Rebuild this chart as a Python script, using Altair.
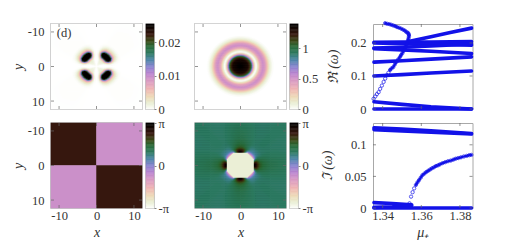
import numpy as np
import pandas as pd
import altair as alt

alt.data_transformers.disable_max_rows()

# colour map stops (fraction, colour)
cm_pos = [0, .03, .08, .15, .24, .34, .42, .5, .58, .66, .74, .8, .88, 1]
cm_col = ["#ffffff", "#f4f7ea", "#e8ecd0", "#efd9b8", "#eeb4b4", "#d89ac4", "#ba84cf", "#8a84d0", "#4c86a8",
          "#2e7a60", "#2a6a38", "#3a4a18", "#38180f", "#000000"]

# intensity panels: radial profiles
r1 = [0, 2, 2.5, 3, 3.5, 4, 4.5, 5, 5.5, 6, 6.5, 7, 20]
v1 = [0, .002, .008, .025, .045, .045, .022, .009, .004, .0015, .0005, .0001, 0]
ang_deg = [0, 8, 14, 20, 30, 45]
ang_val = [0, .01, .1, .35, .85, 1]
r2 = [0, 2, 2.8, 3.2, 3.6, 4.0, 4.3, 4.7, 5.3, 6, 6.6, 7.2, 7.8, 8.5, 9, 20]
v2 = [1.4, 1.32, 1.1, .7, .3, .04, .01, .16, .4, .52, .46, .28, .1, .02, 0, 0]

# phase panels
quad_x = [-12.15, 0, -12.15, 0]
quad_x2 = [0, 12.15, 0, 12.15]
quad_y = [-12.3, -12.3, 0, 0]
quad_y2 = [0, 0, 12.3, 12.3]
quad_v = [2.42, -0.78, -0.78, 2.42]
e_pos = [0, .4, .9, 1.5, 2.5, 4, 8, 20]
ph_axis = [3.1, 2.9, 2.2, 1.7, 1.4, 1.2, 1.05, .95]
ph_diag = [-1.7, -.2, .5, .7, .9, .95, .95, .95]

# stability panels
mu_ticks = [1.34, 1.36, 1.38]
re_ticks = [0, .1, .2]
im_ticks = [0, .05, .1]
re_bands = {
    "a": ([1.3355, 1.35, 1.365, 1.386], [.202, .2025, .203, .204]),
    "b": ([1.3355, 1.35, 1.365, 1.386], [.2, .198, .196, .193]),
    "c": ([1.3355, 1.35, 1.365, 1.386], [.185, .187, .191, .197]),
    "d": ([1.3355, 1.35, 1.365, 1.386], [.183, .179, .175, .168]),
    "e": ([1.3355, 1.35, 1.365, 1.386], [.142, .146, .151, .158]),
    "f": ([1.3355, 1.35, 1.365, 1.386], [.1, .104, .109, .115]),
    "g": ([1.3355, 1.35, 1.365, 1.386], [.022, .014, .007, 0]),
    "h": ([1.3355, 1.35, 1.365, 1.386], [0, 0, 0, 0]),
    "i": ([1.354, 1.365, 1.375, 1.386], [.205, .219, .232, .245]),
}
re_curve_mu = [1.3353, 1.3362, 1.337, 1.3379, 1.3387, 1.3396, 1.3405, 1.3413, 1.3421, 1.3430, 1.3438, 1.3446,
               1.3455, 1.3463, 1.3472, 1.348, 1.3489, 1.3495, 1.3502, 1.3508, 1.3514, 1.3519, 1.3524, 1.3528,
               1.3531, 1.3534, 1.3536, 1.3536, 1.3534, 1.3530, 1.3523, 1.3516, 1.3507, 1.3497, 1.3486, 1.3475,
               1.3465, 1.3455, 1.3445, 1.3435, 1.3424, 1.3413]
re_curve_v = [.031, .038, .045, .051, .061, .071, .082, .092, .102, .11, .118, .123,
              .127, .135, .143, .15, .157, .163, .169, .176, .182, .189, .195, .202,
              .208, .214, .22, .224, .228, .231, .233, .237, .24, .243, .246, .248,
              .251, .253, .255, .257, .258, .26]
im_bands = {
    "a": ([1.3355, 1.35, 1.365, 1.386], [.127, .125, .122, .118]),
    "b": ([1.3355, 1.35, 1.365, 1.386], [.124, .122, .12, .117]),
    "c": ([1.3355, 1.345, 1.355], [.0085, .007, .005]),
    "d": ([1.3355, 1.345, 1.355], [.001, .002, .004]),
    "e": ([1.3355, 1.35, 1.365, 1.386], [0, 0, 0, 0]),
}
im_curve_mu = [1.3539, 1.3547, 1.3555, 1.3563, 1.3572, 1.358, 1.3588, 1.3597, 1.3606, 1.3616, 1.3626, 1.3636,
               1.3646, 1.3656, 1.3666, 1.3676, 1.3686, 1.3696, 1.3710, 1.3724, 1.3738, 1.3752, 1.3766, 1.3778,
               1.3791, 1.3805, 1.382, 1.3835, 1.3848, 1.3859]
im_curve_v = [.0074, .018, .025, .031, .0365, .0405, .044, .048, .052, .0545, .057, .059,
              .061, .063, .0645, .0665, .0675, .069, .071, .0725, .074, .075, .0765, .078,
              .079, .0802, .0815, .0825, .0835, .084]

W, H = 91, 85
BW = 8
XM, YM = 12.15, 12.3
FONT = "Liberation Serif"
TXT = "#333333"
BLUE = "#1212e8"
FRAME = alt.ViewConfig(stroke="#b4b4b4", strokeWidth=1.6)
FRAME2 = alt.ViewConfig(stroke="#a8a8a8", strokeWidth=1)


def cscale(vmin, vmax):
    return alt.Scale(domain=[vmin + p * (vmax - vmin) for p in cm_pos], range=cm_col, interpolate="rgb", clamp=True)


def grid_table(fn):
    ex = np.linspace(-XM, XM, W + 1)
    ey = np.linspace(-YM, YM, H + 1)
    xs, ys = np.meshgrid((ex[:-1] + ex[1:]) / 2, (ey[:-1] + ey[1:]) / 2)
    xe, ye = np.meshgrid(ex[:-1], ey[:-1])
    xf, yf = np.meshgrid(ex[1:], ey[1:])
    return pd.DataFrame({
        "x": xe.ravel().round(3), "x2": xf.ravel().round(3),
        "y": ye.ravel().round(3), "y2": yf.ravel().round(3),
        "v": np.round(fn(xs, ys), 5).ravel(),
    })


def f1(x, y):
    r = np.hypot(x, y)
    th = np.degrees(np.arctan2(np.abs(y), np.abs(x)))
    a = np.minimum(th, 90 - th)
    return np.interp(r, r1, v1) * np.interp(a, ang_deg, ang_val)


def f2(x, y):
    return np.interp(np.hypot(x, y), r2, v2)


def f4(x, y):
    ax, ay = np.abs(x), np.abs(y)
    d = np.maximum(np.maximum(ax, ay), (ax + ay) * .68)
    e = d - 3.7
    th = np.degrees(np.arctan2(ay, ax))
    a = np.minimum(th, 90 - th)
    w = np.cos(np.radians(2 * a)) ** 2.5
    out = w * np.interp(e, e_pos, ph_axis) + (1 - w) * np.interp(e, e_pos, ph_diag)
    out = out + .04 * np.cos(np.radians(8 * a)) * np.clip(e / 4, 0, 1)
    return np.where(e < 0, -2.72, out)


def pos(field, scale, ax):
    ch = alt.X if field == "x" else alt.Y
    return ch("t:Q", scale=scale, axis=ax)


def ticks(xvals, yvals, xs, ys, w, h, ax_x, ax_y, color="#666666"):
    dx = pd.DataFrame({"t": xvals})
    dy = pd.DataFrame({"t": yvals})
    ch = []
    for a, b in ((h, h - 3), (0, 3)):
        ch.append(alt.Chart(dx).mark_rule(color=color, strokeWidth=.7).encode(
            x=pos("x", xs, ax_x), y=alt.value(a), y2=alt.value(b)))
    for a, b in ((0, 3), (w, w - 3)):
        ch.append(alt.Chart(dy).mark_rule(color=color, strokeWidth=.7).encode(
            y=pos("y", ys, ax_y), x=alt.value(a), x2=alt.value(b)))
    return ch


def axis(title, values, show, pad=2, tpad=4):
    if not show:
        return None
    return alt.Axis(title=title, values=values, domain=False, ticks=False, grid=False, labelFont=FONT,
                    labelFontSize=12.5, labelColor=TXT, titleFont=FONT, titleFontSize=14, titleFontStyle="italic",
                    titleFontWeight="normal", titleColor=TXT, labelPadding=pad, titlePadding=tpad, labelFlush=False,
                    labelOverlap=False, labelExpr="'' + datum.value")


sx = alt.Scale(domain=[-XM, XM], nice=False, zero=False)
sy = alt.Scale(domain=[YM, -YM], nice=False, zero=False)
tk = [-10, 0, 10]


def heat(df, vmin, vmax, show_x, show_y=True, extra=None):
    ax_x = axis("x", tk, show_x, pad=1)
    ax_y = axis("y", tk, show_y, pad=7, tpad=2)
    enc = dict(
        x=alt.X("x:Q", scale=sx, axis=ax_x),
        x2="x2:Q",
        y=alt.Y("y:Q", scale=sy, axis=ax_y),
        y2="y2:Q",
        color=alt.Color("v:Q", scale=cscale(vmin, vmax), legend=None),
        stroke=alt.Color("v:Q", scale=cscale(vmin, vmax), legend=None),
    )
    base = alt.Chart(df).mark_rect(strokeWidth=.5).encode(**enc)
    layers = [base] + ticks(tk, tk, sx, sy, W, H, ax_x, ax_y)
    if extra is not None:
        layers.append(extra.encode(x=alt.X("x:Q", scale=sx, axis=ax_x), y=alt.Y("y:Q", scale=sy, axis=ax_y)))
    return alt.layer(*layers).properties(width=W, height=H, view=FRAME)


def bar(vmin, vmax, vals, labexpr=None):
    lev = np.linspace(0, 1, 65)
    df = pd.DataFrame({"y": vmin + lev[:-1] * (vmax - vmin), "y2": vmin + lev[1:] * (vmax - vmin),
                       "v": vmin + (lev[:-1] + lev[1:]) / 2 * (vmax - vmin)})
    ys = alt.Scale(domain=[vmin, vmax], nice=False, zero=False)
    return alt.Chart(df).mark_rect(strokeWidth=.5).encode(
        y=alt.Y("y:Q", scale=ys, axis=alt.Axis(orient="right", title=None, values=vals, domain=False, tickSize=2,
                                               tickColor="#888888", grid=False, labelFont=FONT, labelFontSize=12.5,
                                               labelColor=TXT, labelPadding=2, labelFlush=False, labelOverlap=False,
                                               labelExpr=labexpr or "'' + datum.value")),
        y2="y2:Q",
        color=alt.Color("v:Q", scale=cscale(vmin, vmax), legend=None),
        stroke=alt.Color("v:Q", scale=cscale(vmin, vmax), legend=None),
    ).properties(width=BW, height=H, view=FRAME)


PI = 3.14159265
pi_lab = "datum.value > 1 ? 'π' : (datum.value < -1 ? '-π' : '0')"

lab_d = alt.Chart(pd.DataFrame({"x": [-10.6], "y": [-9.6], "t": ["(d)"]})).mark_text(
    font=FONT, fontSize=12.5, color=TXT, align="left").encode(text="t:N")

p1 = heat(grid_table(f1), 0, .0255, False, True, lab_d)
p2 = heat(grid_table(f2), 0, 1.4, False, False)
df_q = pd.DataFrame({"x": quad_x, "x2": quad_x2, "y": quad_y, "y2": quad_y2, "v": quad_v})
p3 = heat(df_q, -PI, PI, True, True)
p4 = heat(grid_table(f4), -PI, PI, True, False)

b1 = bar(0, .0255, [0, .01, .02])
b2 = bar(0, 1.4, [0, .5, 1])
b3 = bar(-PI, PI, [-PI, 0, PI], pi_lab)
b4 = bar(-PI, PI, [-PI, 0, PI], pi_lab)

mu_s = alt.Scale(domain=[1.335, 1.3865], nice=False, zero=False)


def stab(bands, cmu, cv, solid_from, ydom, yt, title, show_x):
    ys = alt.Scale(domain=ydom, nice=False, zero=False)
    rows = [{"mu": m, "v": v, "b": k} for k, (ms, vs) in bands.items() for m, v in zip(ms, vs)]
    df = pd.DataFrame(rows)
    ax_x = axis("μ₊", mu_ticks, show_x, pad=1)
    ax_y = axis(title, yt, True, pad=7, tpad=10)
    x_enc = alt.X("mu:Q", scale=mu_s, axis=ax_x)
    y_enc = alt.Y("v:Q", scale=ys, axis=ax_y)
    line = alt.Chart(df).mark_line(color=BLUE, strokeWidth=3.6, strokeCap="round", clip=False).encode(
        x=x_enc, y=y_enc, detail="b:N")
    cur = pd.DataFrame({"mu": cmu, "v": cv, "i": list(range(len(cmu)))})
    solid = alt.Chart(cur[cur.i >= solid_from]).mark_line(color=BLUE, strokeWidth=2.3, strokeCap="round",
                                                          clip=False).encode(x=x_enc, y=y_enc, order="i:Q")
    pts = alt.Chart(cur).mark_point(color=BLUE, filled=False, size=11, strokeWidth=.9, opacity=.8, clip=False).encode(
        x=x_enc, y=y_enc)
    return alt.layer(line, solid, pts, *ticks(mu_ticks, yt, mu_s, ys, 99.5, H, ax_x, ax_y)).properties(
        width=99.5, height=H, view=FRAME2)


p5 = stab(re_bands, re_curve_mu, re_curve_v, 10, [0, .2575], re_ticks, "ℜ (ω)", False)
p6 = stab(im_bands, im_curve_mu, im_curve_v, 4, [0, .1345], im_ticks, "ℑ (ω)", True)


def gap(w):
    return alt.Chart(pd.DataFrame({"a": [0]})).mark_rule(opacity=0).encode(x=alt.value(0)).properties(
        width=w, height=H, view=alt.ViewConfig(stroke="transparent"))


chart = alt.concat(
    p1, gap(4), b1, gap(41), p2, gap(4), b2, gap(75), p5,
    p3, gap(4), b3, gap(41), p4, gap(4), b4, gap(75), p6,
    columns=9, spacing=alt.RowColnumber(row=14, column=0),
).resolve_scale(color="independent", stroke="independent").properties(
    bounds="flush", align="each",
    padding={"left": 2, "top": 10, "right": 5, "bottom": 0},
    background="white",
)

chart.save("out.html", embed_options={"renderer": "svg", "actions": False})
